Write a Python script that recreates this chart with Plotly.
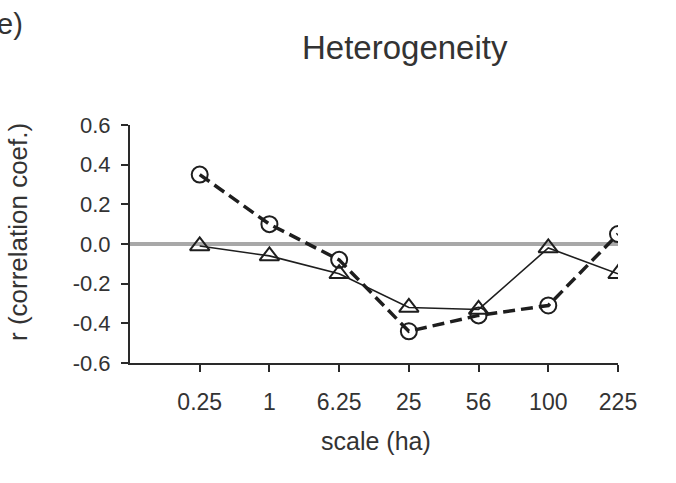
import plotly.graph_objects as go

scales = ["0.25", "1", "6.25", "25", "56", "100", "225"]
series_circle = [0.35, 0.10, -0.08, -0.44, -0.36, -0.31, 0.05]
series_triangle = [-0.01, -0.06, -0.15, -0.32, -0.33, -0.02, -0.15]
y_ticks = [-0.6, -0.4, -0.2, 0.0, 0.2, 0.4, 0.6]
y_tick_text = [f"{v:.1f}" for v in y_ticks]

FONT = "Liberation Sans, Arial, sans-serif"
INK = "#1e1e1e"
TXT = "#333"

# plot area on page spans x 130..618, y 125..363 (body margin removed)
PL, PR, PT, PB = 130, 618, 125, 363
PW, PH = PR - PL, PB - PT


def px(xp):
    return (xp - PL) / PW


def py(yp):
    return (PB - yp) / PH


fig = go.Figure()
fig.add_trace(go.Scatter(
    x=scales, y=series_triangle, mode="lines+markers",
    line=dict(color=INK, width=1.6),
    marker=dict(symbol="triangle-up-open", size=17, color=INK, line=dict(width=2, color=INK)),
    showlegend=False,
))
fig.add_trace(go.Scatter(
    x=scales, y=series_circle, mode="lines+markers",
    line=dict(color=INK, width=3.5, dash="12px,6px"),
    marker=dict(symbol="circle-open", size=16, color=INK, line=dict(width=2, color=INK)),
    showlegend=False,
))

fig.update_layout(
    width=676, height=483,
    margin=dict(l=PL, r=676 - PR, t=PT, b=483 - PB),
    paper_bgcolor="white", plot_bgcolor="white",
    font=dict(family=FONT, color=INK),
    hovermode=False,
    xaxis=dict(
        type="category", range=[-1, 6],
        showline=True, linecolor="#2a2a2a", linewidth=2,
        ticks="outside", ticklen=7, tickwidth=2, tickcolor="#2a2a2a",
        showgrid=False, zeroline=False,
        tickfont=dict(size=23, family=FONT, color=TXT),
        ticklabelstandoff=10,
    ),
    yaxis=dict(
        range=[-0.6, 0.6], tickmode="array", tickvals=y_ticks, ticktext=y_tick_text,
        showline=True, linecolor="#2a2a2a", linewidth=2,
        ticks="outside", ticklen=7, tickwidth=2, tickcolor="#2a2a2a",
        showgrid=False,
        zeroline=True, zerolinecolor="#a8a8a8", zerolinewidth=3.5,
        tickfont=dict(size=22, family=FONT, color=TXT),
        ticklabelstandoff=6,
    ),
    annotations=[
        dict(text="Heterogeneity", xref="paper", yref="paper",
             x=px(405), y=py(47), xanchor="center", yanchor="middle",
             showarrow=False, font=dict(size=33, family=FONT, color=TXT)),
        dict(text="scale (ha)", xref="paper", yref="paper",
             x=px(376), y=py(441), xanchor="center", yanchor="middle",
             showarrow=False, font=dict(size=25, family=FONT, color=TXT)),
        dict(text="r (correlation coef.)", xref="paper", yref="paper",
             x=px(18), y=py(232), xanchor="center", yanchor="middle",
             textangle=-90, showarrow=False, font=dict(size=26, family=FONT, color=TXT)),
        dict(text="e)", xref="paper", yref="paper",
             x=px(-5), y=py(24), xanchor="left", yanchor="middle",
             showarrow=False, font=dict(size=29, family=FONT, color=TXT)),
    ],
)

fig.write_html(
    "out.html",
    config={"displayModeBar": False},
    post_script="document.body.style.margin='0';document.body.style.overflow='hidden';",
)
